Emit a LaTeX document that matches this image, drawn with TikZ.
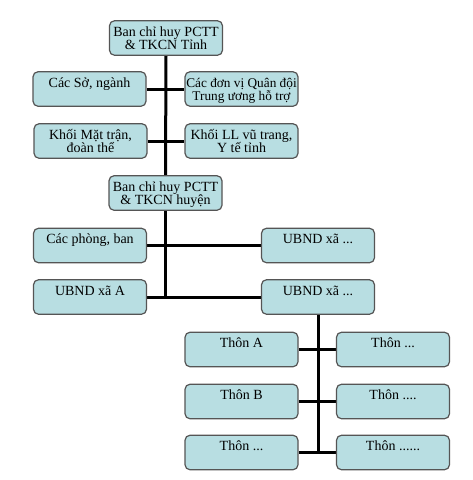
\documentclass[tikz,border=0pt]{standalone}
\usepackage{fontspec}
\setmainfont{Liberation Serif}
\usetikzlibrary{backgrounds}
\definecolor{boxfill}{RGB}{184,222,226}
\definecolor{boxline}{RGB}{85,85,85}
\newcommand{\bt}[2]{\rule{0pt}{13pt}#1\\#2\rule[-3.5pt]{0pt}{3.5pt}}
\tikzset{
  orgbox/.style={draw=boxline, line width=1.2pt, fill=boxfill, rounded corners=5pt,
    minimum width=113pt, minimum height=34.5pt, inner sep=0pt, align=center,
    font=\fontsize{14}{13}\selectfont},
  link/.style={line width=3pt, black}
}
\begin{document}
\lineskiplimit=-30pt
\begin{tikzpicture}[x=1pt, y=-1pt]
\useasboundingbox (0,0) rectangle (473,480);
\node[orgbox] (top)  at (166,38)    {\bt{Ban chỉ huy PCTT}{\& TKCN Tỉnh}};
\node[orgbox] (s1L)  at (89.5,89)   {\bt{Các Sở, ngành}{}};
\node[orgbox, font=\fontsize{13.3}{13}\selectfont] (s1R)  at (241.5,89)  {\bt{Các đơn vị Quân đội}{Trung ương hỗ trợ}};
\node[orgbox] (s2L)  at (90.5,141)  {\bt{Khối Mặt trận,}{đoàn thể}};
\node[orgbox] (s2R)  at (241.5,141) {\bt{Khối LL vũ trang,}{Y tế tỉnh}};
\node[orgbox] (huy)  at (165.5,193) {\bt{Ban chỉ huy PCTT}{\& TKCN huyện}};
\node[orgbox] (r3L)  at (90,245.5)  {\bt{Các phòng, ban}{}};
\node[orgbox] (r3R)  at (318,245.5) {\bt{UBND xã ...}{}};
\node[orgbox] (r4L)  at (90,297)    {\bt{UBND xã A}{}};
\node[orgbox] (r4R)  at (318,297)   {\bt{UBND xã ...}{}};
\node[orgbox] (tAL)  at (241.5,349.5) {\bt{Thôn A}{}};
\node[orgbox] (tAR)  at (393,349.5)   {\bt{Thôn ...}{}};
\node[orgbox] (tBL)  at (241.5,401.5) {\bt{Thôn B}{}};
\node[orgbox] (tBR)  at (393,401.5)   {\bt{Thôn ....}{}};
\node[orgbox] (tCL)  at (241.5,452.5) {\bt{Thôn ...}{}};
\node[orgbox] (tCR)  at (393,452.5)   {\bt{Thôn ......}{}};
\begin{scope}[on background layer]
\fill[white] (0,0) rectangle (473,480);
\draw[link] (top.south) -- (huy.north);
\draw[link] (huy.south) -- (huy.south |- r4L.east);
\draw[link] (s1L.east) -- (s1R.west);
\draw[link] (s2L.east) -- (s2R.west);
\draw[link] (r3L.east) -- (r3R.west);
\draw[link] (r4L.east) -- (r4R.west);
\draw[link] (r4R.south) -- (r4R.south |- tCL.east);
\draw[link] (tAL.east) -- (tAR.west);
\draw[link] (tBL.east) -- (tBR.west);
\draw[link] (tCL.east) -- (tCR.west);
\end{scope}
\end{tikzpicture}
\end{document}
